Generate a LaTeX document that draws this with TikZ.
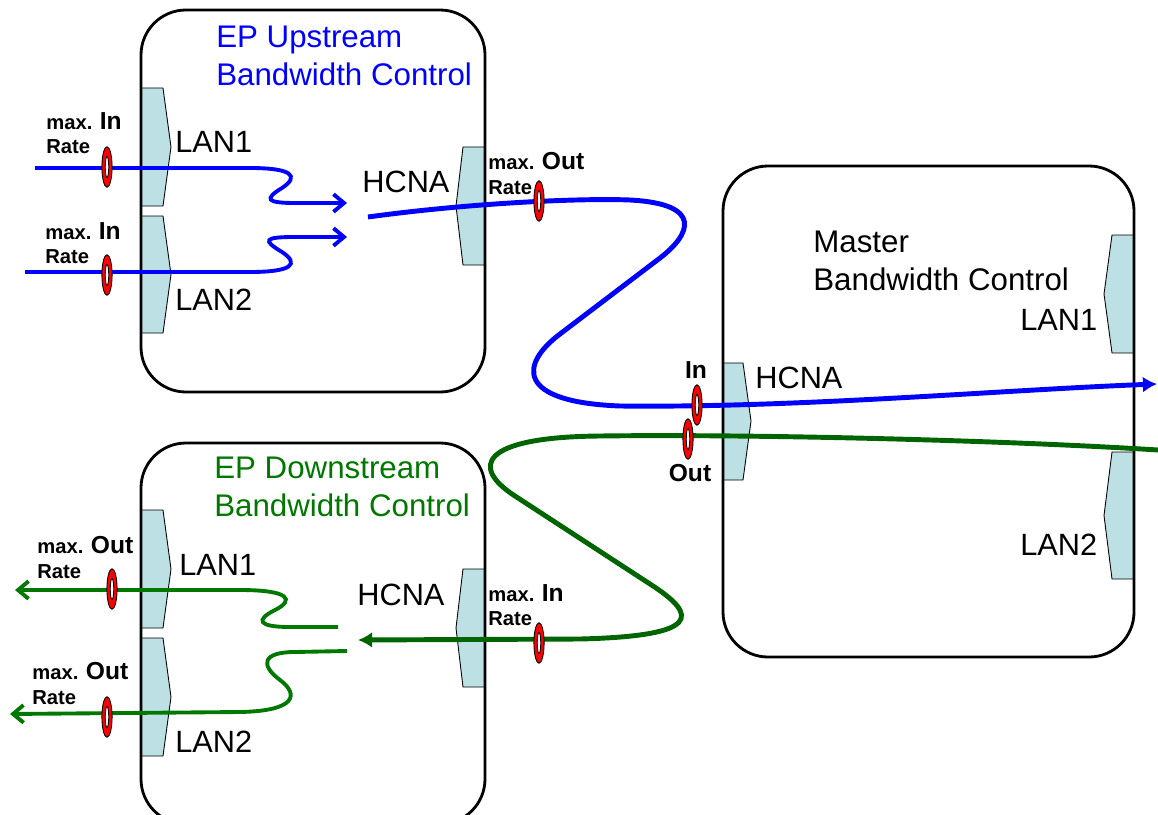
\documentclass[tikz,border=0pt]{standalone}
\usepackage{fontspec}
\setmainfont{Liberation Sans}
\usetikzlibrary{arrows.meta}

\definecolor{blu}{RGB}{0,0,255}
\definecolor{verde}{RGB}{0,120,0}
\definecolor{verdescuro}{RGB}{0,100,0}
\definecolor{azzurrino}{RGB}{188,224,228}

\begin{document}
\begin{tikzpicture}[
    x=0.02cm,y=-0.02cm,
    scatola/.style={line width=1.6pt,rounded corners=0.9cm},
    porta/.style={fill=azzurrino,draw=black,line width=0.5pt},
    titolo/.style={font=\fontsize{17.8}{21.5}\selectfont,align=left,
                   anchor=north west,inner sep=0pt},
    etich/.style={font=\fontsize{17.5}{20}\selectfont,
                  anchor=north west,inner sep=0pt},
    tasso/.style={font=\fontsize{11.5}{14}\selectfont\bfseries,align=left,
                  anchor=north west,inner sep=0pt},
    verso/.style={font=\fontsize{14}{14}\selectfont\bfseries,inner sep=0pt},
    sottile/.style={line width=2.2pt},
    spesso/.style={line width=2.8pt},
    barba/.style={-{Straight Barb[length=6pt,width=10pt]}},
    punta/.style={-{Latex[length=8pt,width=9pt]}},
    anello/.pic={
      \filldraw[fill=red,line width=0.5pt] (0,0) ellipse (2.9pt and 11.5pt);
      \filldraw[fill=white,line width=0.5pt] (0,0) ellipse (1pt and 6pt);
    }]

  \clip (0,0) rectangle (1158,814);

  % --- porte sul lato sinistro (LAN delle due EP) ---
  \foreach \a/\b in {88/206,216/333,510/628,638/756}{
    \draw[porta] (141,\a) -- (163,\a) -- (171,{(\a+\b)/2})
                 -- (163,\b) -- (141,\b) -- cycle;
  }
  % --- porte HCNA delle EP ---
  \foreach \a/\b in {147/265,569/687}{
    \draw[porta] (485,\a) -- (463,\a) -- (456,{(\a+\b)/2})
                 -- (463,\b) -- (485,\b) -- cycle;
  }
  % --- porte del master ---
  \foreach \a/\b in {235/353,452/579}{
    \draw[porta] (1134,\a) -- (1112,\a) -- (1104,{(\a+\b)/2})
                 -- (1112,\b) -- (1134,\b) -- cycle;
  }
  \draw[porta] (723,363) -- (743,363) -- (751,421) -- (743,480)
               -- (723,480) -- cycle;

  % --- le tre scatole ---
  \draw[scatola] (141,10) rectangle (485,392);
  \draw[scatola] (141,443) rectangle (485,824);
  \draw[scatola] (723,166) rectangle (1134,657);

  % --- estremi dei flussi ---
  \coordinate (inU1) at (35,168);
  \coordinate (inU2) at (25,272);
  \coordinate (hcU1) at (347,203);
  \coordinate (hcU2) at (347,237);
  \coordinate (hcU) at (368,217);
  \coordinate (uscita) at (1157,384);
  \coordinate (entrata) at (1158,450);
  \coordinate (hcD) at (358,640);
  \coordinate (hcD1) at (338,627);
  \coordinate (hcD2) at (347,651);
  \coordinate (outD1) at (15,590);
  \coordinate (outD2) at (10,714);

  % --- flussi upstream ---
  \draw[blu,sottile,barba] (inU1) -- (250,168)
    .. controls (292,168) and (300,176) .. (282,188)
    .. controls (264,199) and (266,203) .. (295,203) -- (hcU1);
  \draw[blu,sottile,barba] (inU2) -- (250,272)
    .. controls (292,272) and (300,264) .. (282,252)
    .. controls (262,240) and (264,237) .. (295,237) -- (hcU2);
  \draw[blu,spesso,punta] (hcU)
    .. controls (470,203) and (580,198) .. (630,200)
    .. controls (705,204) and (690,235) .. (660,258)
    -- (560,334)
    .. controls (520,364) and (515,402) .. (620,406)
    .. controls (800,408) and (1000,390) .. (uscita);

  % --- flussi downstream ---
  \draw[verdescuro,spesso,punta] (entrata)
    .. controls (1000,440) and (750,434) .. (600,436)
    .. controls (480,437) and (470,467) .. (515,496)
    -- (650,584)
    .. controls (700,616) and (700,636) .. (580,639) -- (hcD);
  \draw[verde,sottile,barba] (hcD1) -- (290,627)
    .. controls (258,627) and (255,620) .. (275,610)
    .. controls (295,600) and (290,590) .. (240,590) -- (outD1);
  \draw[verde,sottile,barba] (hcD2) -- (295,652)
    .. controls (262,652) and (260,665) .. (280,680)
    .. controls (300,695) and (295,711) .. (240,712) -- (outD2);

  % --- anelli di misura ---
  \foreach \p in {(107,167),(107,275),(539,201),(697,405),
                  (688,439),(112,589),(107,717),(539,643)}{
    \pic at \p {anello};
  }

  % --- titoli ---
  \node[titolo,text=blu] (tUp) at (216,26) {EP Upstream\\Bandwidth Control};
  \node[titolo,text=verde] (tDown) at (214,457) {EP Downstream\\Bandwidth Control};
  \node[titolo] (tMaster) at (813,231) {Master\\Bandwidth Control};

  % --- nomi delle porte ---
  \node[etich] (lanU1) at (175,131) {LAN1};
  \node[etich] (lanU2) at (175,289) {LAN2};
  \node[etich] (hcnaU) at (362,171) {HCNA};
  \node[etich] (lanM1) at (1020,309) {LAN1};
  \node[etich] (hcnaM) at (755,367) {HCNA};
  \node[etich] (lanM2) at (1020,534) {LAN2};
  \node[etich] (lanD1) at (179,554) {LAN1};
  \node[etich] (hcnaD) at (357,584) {HCNA};
  \node[etich] (lanD2) at (175,731) {LAN2};

  % --- limiti di tasso ---
  \node[tasso] (rU1) at (46,112) {max. {\fontsize{14}{14}\selectfont In}\\Rate};
  \node[tasso] (rU2) at (45,222) {max. {\fontsize{14}{14}\selectfont In}\\Rate};
  \node[tasso] (rUh) at (488,152) {max. {\fontsize{14}{14}\selectfont Out}\\Rate};
  \node[tasso] (rD1) at (37,536) {max. {\fontsize{14}{14}\selectfont Out}\\Rate};
  \node[tasso] (rD2) at (32,662) {max. {\fontsize{14}{14}\selectfont Out}\\Rate};
  \node[tasso] (rDh) at (488,584) {max. {\fontsize{14}{14}\selectfont In}\\Rate};
  \node[verso] (vIn) at (696,370) {In};
  \node[verso] (vOut) at (690,473) {Out};

\end{tikzpicture}
\end{document}
